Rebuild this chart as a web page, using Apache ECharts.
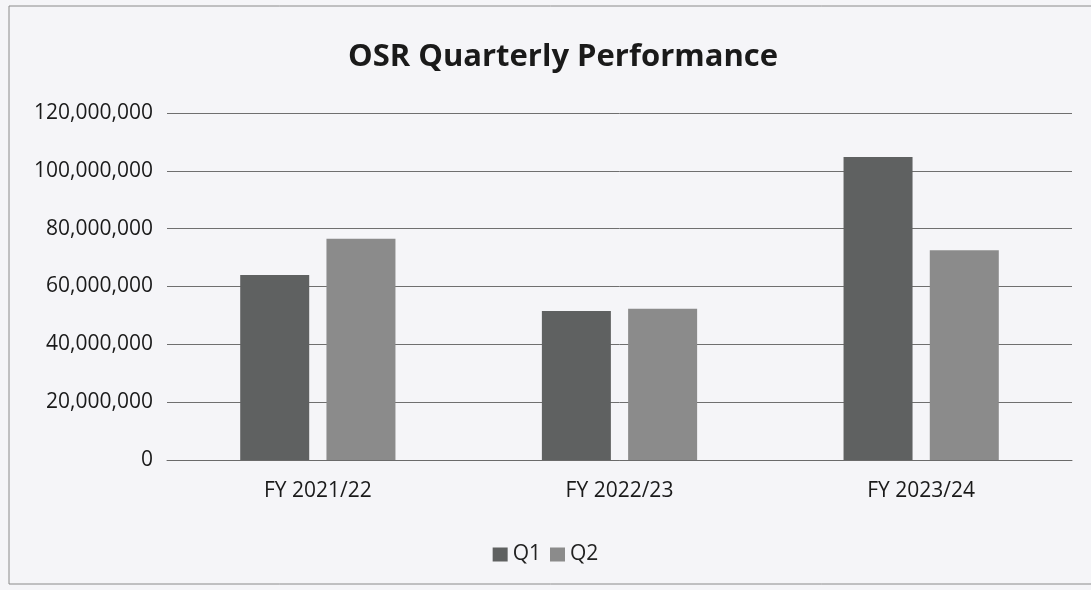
<!DOCTYPE html>
<html>
<head>
<meta charset="utf-8">
<script src="https://cdn.jsdelivr.net/npm/echarts@6/dist/echarts.min.js"></script>
<style>
  html, body { margin: 0; padding: 0; background: #f5f5f8; }
  #chart { width: 1091px; height: 590px; }
</style>
</head>
<body>
<div id="chart"></div>
<script>
const categories = ['FY 2021/22', 'FY 2022/23', 'FY 2023/24'];
const q1 = [64000000, 51500000, 104800000];
const q2 = [76500000, 52300000, 72500000];
const yTicks = [0, 20000000, 40000000, 60000000, 80000000, 100000000, 120000000];

const font = '"Open Sans", "Liberation Sans", sans-serif';
const chart = echarts.init(document.getElementById('chart'));

chart.setOption({
  backgroundColor: '#f5f5f8',
  animation: false,
  textStyle: { fontFamily: font },
  title: {
    text: 'OSR Quarterly Performance',
    left: 558,
    top: 37,
    textAlign: 'center',
    textStyle: { fontFamily: font, fontSize: 31, fontWeight: 'bold', color: '#1a1a1a' }
  },
  // outer frame of the chart box
  graphic: [{
    type: 'rect',
    shape: { x: 9, y: 6, width: 1100, height: 578 },
    style: { fill: 'none', stroke: '#8a8a8a', lineWidth: 1 }
  }],
  legend: {
    data: ['Q1', 'Q2'],
    left: 'center',
    top: 539,
    itemWidth: 15,
    itemHeight: 14,
    itemGap: 9,
    icon: 'rect',
    textStyle: { fontFamily: font, fontSize: 21, color: '#222' }
  },
  grid: { left: 167, right: 19, top: 113, bottom: 130 },
  xAxis: {
    type: 'category',
    data: categories,
    axisLine: { lineStyle: { color: '#6a6a6a' } },
    axisTick: { show: false },
    axisLabel: { fontFamily: font, fontSize: 21, color: '#1a1a1a', margin: 21 }
  },
  yAxis: {
    type: 'value',
    min: yTicks[0],
    max: yTicks[yTicks.length - 1],
    interval: yTicks[1] - yTicks[0],
    axisLine: { show: false },
    axisTick: { show: false },
    splitLine: { lineStyle: { color: '#6f6f6f', width: 1 } },
    axisLabel: {
      fontFamily: font,
      fontSize: 21,
      color: '#1a1a1a',
      margin: 14,
      formatter: v => v.toLocaleString('en-US')
    }
  },
  series: [
    {
      name: 'Q1',
      type: 'bar',
      data: q1,
      barWidth: 69,
      barGap: '25%',
      itemStyle: { color: '#5f6161' }
    },
    {
      name: 'Q2',
      type: 'bar',
      data: q2,
      barWidth: 69,
      itemStyle: { color: '#8b8b8b' }
    }
  ]
});
</script>
</body>
</html>
